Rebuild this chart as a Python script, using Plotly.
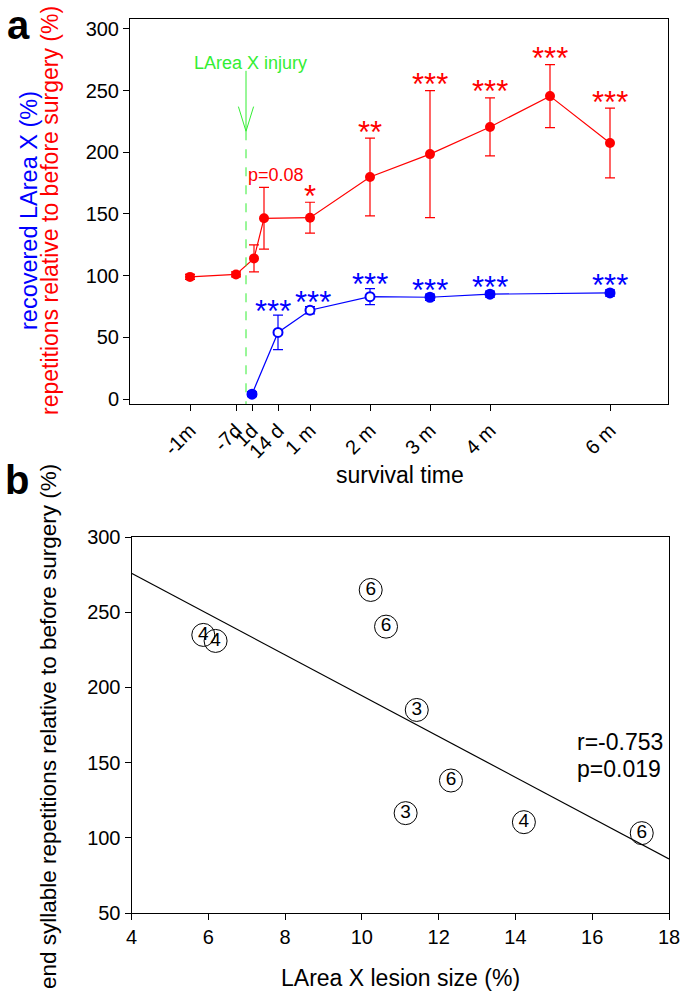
import numpy as np
import plotly.graph_objects as go

# ---------------- Data: panel a ----------------
tick_days = [-30, -7, 1, 14, 30, 60, 90, 120, 180]
tick_labels = ["-1m", "-7d", "1d", "14 d", "1 m", "2 m", "3 m", "4 m", "6 m"]

red_days = [-30, -7, 2, 7, 30, 60, 90, 120, 150, 180]
red_mean = [99, 101, 114, 146.5, 147, 180, 198.5, 220.5, 245.5, 207.5]
red_err = [2, 2, 11, 25, 12.5, 31.5, 51.5, 23.5, 25.5, 28.3]
red_sig = ["", "", "", "p=0.08", "*", "**", "***", "***", "***", "***"]

blue_days = [1, 14, 30, 60, 90, 120, 180]
blue_mean = [4, 54, 72, 83, 82.5, 85, 86]
blue_err = [2, 14, 3, 6.5, 2.5, 2.5, 2.5]
blue_open = [False, True, True, True, False, False, False]
blue_sig = ["", "***", "***", "***", "***", "***", "***"]

injury_day = -2

# ---------------- Data: panel b ----------------
lesion_size = [5.87, 6.19, 10.23, 10.63, 11.43, 12.32, 11.14, 14.22, 17.29]
end_reps = [234.9, 230.9, 264.8, 240.4, 185.0, 138.1, 116.4, 110.4, 103.1]
n_labels = ["4", "4", "6", "6", "3", "6", "3", "4", "6"]
r_value = -0.753
p_value = 0.019

FONT = "Liberation Sans, Arial, sans-serif"
RED = "#ff0000"
BLUE = "#0000ff"
GREEN = "#33ee33"
W, H = 686, 998


def px(xp):
    return xp / W


def py(yp):
    return 1 - yp / H


fig = go.Figure()

# red series
fig.add_trace(go.Scatter(
    x=red_days, y=red_mean, mode="lines+markers",
    line=dict(color=RED, width=1.2),
    marker=dict(color=RED, size=10),
    error_y=dict(type="data", array=red_err, color=RED, thickness=1.2, width=5),
    xaxis="x", yaxis="y", showlegend=False))

# blue series
fig.add_trace(go.Scatter(
    x=blue_days, y=blue_mean, mode="lines+markers",
    line=dict(color=BLUE, width=1.2),
    marker=dict(color=["white" if o else BLUE for o in blue_open], size=9,
                line=dict(color=BLUE, width=2)),
    error_y=dict(type="data", array=blue_err, color=BLUE, thickness=1.2, width=5),
    xaxis="x", yaxis="y", showlegend=False))

annotations = []
# significance markers, red
for d, m, e, s in zip(red_days, red_mean, red_err, red_sig):
    if not s:
        continue
    if s.startswith("p"):
        annotations.append(dict(x=d, y=m + e, xref="x", yref="y", text=s, showarrow=False,
                                font=dict(family=FONT, size=18, color=RED),
                                yanchor="bottom", xshift=12, yshift=0))
    else:
        annotations.append(dict(x=d, y=m + e, xref="x", yref="y", text=s, showarrow=False,
                                font=dict(family=FONT, size=31, color=RED),
                                yanchor="middle", yshift=6))
# significance markers, blue
blue_xshift = {14: -5, 30: 3}
for d, m, e, s in zip(blue_days, blue_mean, blue_err, blue_sig):
    if not s:
        continue
    annotations.append(dict(x=d, y=m + e, xref="x", yref="y", text=s, showarrow=False,
                            font=dict(family=FONT, size=31, color=BLUE),
                            yanchor="middle", yshift=4, xshift=blue_xshift.get(d, 0)))

# injury marker
annotations.append(dict(x=injury_day, y=272, xref="x", yref="y", text="LArea X injury",
                        showarrow=False, font=dict(family=FONT, size=18, color=GREEN),
                        yanchor="middle", xshift=4))
shapes = [
    dict(type="line", xref="x", yref="y", x0=injury_day, x1=injury_day, y0=266, y1=217,
         line=dict(color=GREEN, width=1)),
    dict(type="line", xref="x", yref="y", x0=injury_day - 3.8, x1=injury_day, y0=237, y1=217,
         line=dict(color=GREEN, width=1)),
    dict(type="line", xref="x", yref="y", x0=injury_day + 3.8, x1=injury_day, y0=237, y1=217,
         line=dict(color=GREEN, width=1)),
    dict(type="line", xref="x", yref="y", x0=injury_day, x1=injury_day, y0=217, y1=-4,
         line=dict(color=GREEN, width=1, dash="dash")),
]

# ---------------- panel b ----------------
fig.add_trace(go.Scatter(
    x=lesion_size, y=end_reps, mode="markers+text", text=n_labels,
    textposition="middle center",
    textfont=dict(family=FONT, size=19, color="black"),
    marker=dict(symbol="circle-open", size=23, color="black", line=dict(width=1)),
    xaxis="x2", yaxis="y2", showlegend=False))

slope, intercept = np.polyfit(lesion_size, end_reps, 1)
fit_x = np.array([4, 18])
fig.add_trace(go.Scatter(
    x=fit_x, y=slope * fit_x + intercept, mode="lines",
    line=dict(color="black", width=1.2), xaxis="x2", yaxis="y2", showlegend=False))

annotations.append(dict(x=px(575), y=py(742), xref="paper", yref="paper",
                        text=f"r={r_value:.3f}", showarrow=False,
                        xanchor="left", yanchor="middle",
                        font=dict(family=FONT, size=23, color="black")))
annotations.append(dict(x=px(575), y=py(769), xref="paper", yref="paper",
                        text=f"p={p_value:.3f}", showarrow=False,
                        xanchor="left", yanchor="middle",
                        font=dict(family=FONT, size=23, color="black")))

# panel letters
annotations.append(dict(x=px(5), y=py(25), xref="paper", yref="paper", text="<b>a</b>",
                        showarrow=False, xanchor="left", yanchor="middle",
                        font=dict(family=FONT, size=40, color="black")))
annotations.append(dict(x=px(3), y=py(480), xref="paper", yref="paper", text="<b>b</b>",
                        showarrow=False, xanchor="left", yanchor="middle",
                        font=dict(family=FONT, size=40, color="black")))

# y titles
annotations.append(dict(x=px(29), y=py(211), xref="paper", yref="paper",
                        text=f"<span style='color:{BLUE}'>recovered LArea X (%)</span>",
                        showarrow=False, textangle=-90, xanchor="center", yanchor="middle",
                        font=dict(family=FONT, size=23.5)))
annotations.append(dict(x=px(50), y=py(211), xref="paper", yref="paper",
                        text=f"<span style='color:{RED}'>repetitions relative to before surgery (%)</span>",
                        showarrow=False, textangle=-90, xanchor="center", yanchor="middle",
                        font=dict(family=FONT, size=23)))
annotations.append(dict(x=px(48), y=py(727), xref="paper", yref="paper",
                        text="end syllable repetitions relative to before surgery (%)",
                        showarrow=False, textangle=-90, xanchor="center", yanchor="middle",
                        font=dict(family=FONT, size=22.5, color="black")))
# x titles
annotations.append(dict(x=px(400), y=py(475), xref="paper", yref="paper",
                        text="survival time", showarrow=False, xanchor="center", yanchor="middle",
                        font=dict(family=FONT, size=23, color="black")))
annotations.append(dict(x=px(400), y=py(978), xref="paper", yref="paper",
                        text="LArea X lesion size (%)", showarrow=False, xanchor="center",
                        yanchor="middle", font=dict(family=FONT, size=23, color="black")))

axis_common = dict(showline=True, linecolor="black", linewidth=1, mirror=True,
                   ticks="outside", ticklen=6, tickcolor="black", showgrid=False,
                   zeroline=False, automargin=False,
                   tickfont=dict(family=FONT, size=20, color="black"))

fig.update_layout(
    width=W, height=H,
    margin=dict(l=0, r=0, t=0, b=0, autoexpand=False),
    paper_bgcolor="white", plot_bgcolor="white",
    xaxis=dict(domain=[px(130), px(668)], anchor="y", range=[-60, 209],
               tickvals=tick_days, ticktext=tick_labels, tickangle=-45, **axis_common),
    yaxis=dict(domain=[py(404), py(19)], anchor="x", range=[-4, 308],
               tickvals=[0, 50, 100, 150, 200, 250, 300], **axis_common),
    xaxis2=dict(domain=[px(131.5), px(669)], anchor="y2", range=[4, 18],
                tickvals=[4, 6, 8, 10, 12, 14, 16, 18], **axis_common),
    yaxis2=dict(domain=[py(913), py(537)], anchor="x2", range=[50, 300],
                tickvals=[50, 100, 150, 200, 250, 300], **axis_common),
    annotations=annotations,
    shapes=shapes,
)

fig.write_html("out.html", config={"displayModeBar": False},
               post_script="document.body.style.margin='0px';document.body.style.overflow='hidden';")
